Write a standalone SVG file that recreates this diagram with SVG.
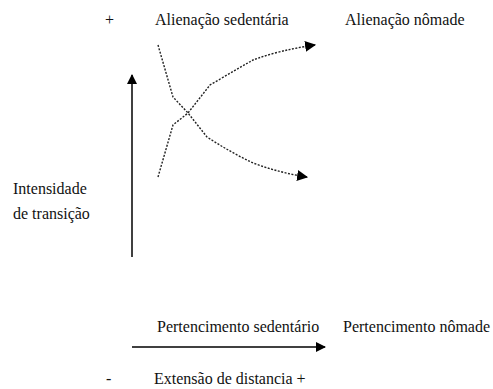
<svg xmlns="http://www.w3.org/2000/svg" width="493" height="389" viewBox="0 0 493 389">
<defs>
<style>
.solid{fill:none;stroke:#000;stroke-width:1.5}
.dot{fill:none;stroke:#222;stroke-width:1.4;stroke-dasharray:2 1.5}
</style>
<marker id="ah" viewBox="0 0 10 10" refX="9" refY="5" markerWidth="10" markerHeight="10" markerUnits="userSpaceOnUse" orient="auto"><path d="M0,0 L10,5 L0,10 z" fill="#000"/></marker>
<marker id="ah2" viewBox="0 0 10 10" refX="9" refY="5" markerWidth="11" markerHeight="11" markerUnits="userSpaceOnUse" orient="auto"><path d="M0,0 L10,5 L0,10 z" fill="#000"/></marker>
</defs>
<g id="labels" font-family="Liberation Serif" font-size="16" fill="#111">
<g id="plus-top"><text x="105" y="25" font-family="Liberation Serif">+</text></g>
<g id="alienacao-sedentaria"><text x="155" y="25" font-family="Liberation Serif">Alienação sedentária</text></g>
<g id="alienacao-nomade"><text x="345" y="25" font-family="Liberation Serif">Alienação nômade</text></g>
<g id="intensidade"><text x="13" y="194" font-family="Liberation Serif">Intensidade</text><text x="13" y="219" font-family="Liberation Serif">de transição</text></g>
<g id="pertencimento-sedentario"><text x="157" y="332" font-family="Liberation Serif">Pertencimento sedentário</text></g>
<g id="pertencimento-nomade"><text x="343" y="332" font-family="Liberation Serif">Pertencimento nômade</text></g>
<g id="minus"><text x="106" y="384" font-family="Liberation Serif">-</text></g>
<g id="extensao"><text x="154" y="384" font-family="Liberation Serif">Extensão de distancia +</text></g>
</g>
<g id="connectors">
<line class="solid" x1="132" y1="257" x2="132" y2="75" marker-end="url(#ah)"/>
<line class="solid" x1="132" y1="347" x2="325" y2="347" marker-end="url(#ah)"/>
<path class="dot" d="M158,45 L173,97 L188,113 L207,137 Q230,152 253,163 Q280,173 307,177" marker-end="url(#ah2)"/>
<path class="dot" d="M158,177 L173,125 L188,113 L210,85 Q232,72 253,60 Q280,50 315,45" marker-end="url(#ah2)"/>
</g>
</svg>
